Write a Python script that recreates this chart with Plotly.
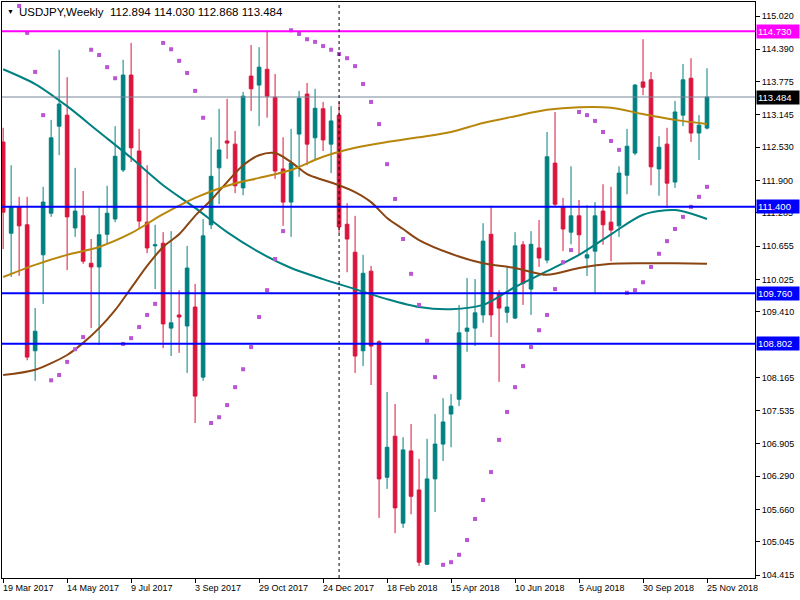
import pandas as pd
import plotly.graph_objects as go

# ---------------- data ----------------
dates = pd.date_range("2017-03-19", periods=89, freq="7D")

open_ = [112.63, 110.90, 111.40, 111.06, 108.67, 110.49, 111.28, 112.93, 113.14, 111.00,
         111.23, 110.33, 110.26, 110.88, 111.17, 112.10, 113.90, 112.46, 111.11, 110.66,
         110.71, 109.10, 109.35, 109.14, 109.50, 108.17, 111.06, 112.14, 112.65, 112.59,
         111.76, 113.88, 113.71, 114.01, 113.48, 112.12, 111.49, 112.78, 113.54, 112.71,
         113.26, 112.59, 113.14, 111.07, 110.54, 108.67, 110.18, 108.84, 106.27, 107.05,
         105.40, 106.77, 106.03, 104.62, 106.24, 106.90, 107.47, 107.75, 109.04, 109.10,
         109.35, 110.88, 109.75, 109.40, 109.29, 110.68, 109.84, 110.62, 110.39, 112.23,
         111.40, 110.92, 111.23, 110.43, 110.56, 111.32, 111.11, 111.04, 112.00, 112.42,
         113.77, 113.81, 112.12, 112.59, 111.87, 113.14, 113.84, 112.80, 112.894]
high = [112.90, 112.19, 111.59, 111.59, 109.48, 111.78, 113.05, 114.38, 113.86, 112.14,
        111.70, 110.79, 111.42, 111.80, 112.93, 114.19, 114.51, 112.88, 112.19, 111.06,
        110.92, 110.94, 109.82, 110.66, 109.94, 111.17, 112.72, 113.26, 113.45, 112.84,
        113.58, 114.47, 114.43, 114.75, 113.92, 112.72, 112.88, 113.60, 113.75, 113.64,
        113.39, 113.31, 113.39, 111.47, 111.23, 110.49, 110.28, 108.87, 107.89, 107.66,
        107.03, 107.28, 106.62, 107.00, 107.47, 107.77, 107.85, 109.54, 110.05, 110.03,
        111.09, 111.42, 109.82, 110.26, 110.92, 110.75, 110.94, 111.15, 112.82, 113.20,
        111.57, 112.17, 111.53, 111.43, 111.49, 111.83, 111.78, 112.17, 112.88, 113.73,
        114.58, 113.96, 112.74, 112.90, 113.41, 114.11, 114.22, 113.14, 114.030]
low = [110.60, 110.07, 110.09, 108.49, 108.10, 109.56, 111.21, 112.38, 110.20, 110.83,
       110.32, 109.10, 108.78, 110.71, 111.11, 112.06, 112.25, 111.00, 110.52, 109.84,
       108.72, 108.57, 108.63, 108.25, 107.30, 108.10, 110.98, 111.45, 112.31, 111.66,
       111.62, 113.22, 112.93, 113.09, 111.93, 111.04, 110.83, 111.97, 112.19, 112.29,
       112.46, 112.04, 110.90, 110.16, 108.25, 108.38, 108.02, 105.50, 106.05, 105.21,
       105.31, 105.57, 104.59, 104.61, 105.61, 106.58, 106.84, 107.62, 108.65, 108.76,
       109.20, 108.93, 108.08, 109.20, 109.27, 109.54, 109.35, 110.26, 110.33, 111.40,
       110.56, 110.69, 110.49, 110.09, 109.77, 110.68, 110.37, 110.83, 111.64, 112.38,
       113.52, 111.81, 111.61, 111.38, 111.76, 112.93, 112.63, 112.29, 112.868]
close = [111.30, 111.40, 111.04, 108.55, 109.04, 111.49, 112.71, 113.35, 111.21, 111.32,
         110.37, 110.26, 110.87, 111.28, 112.36, 113.90, 112.52, 111.13, 110.62, 110.68,
         109.18, 109.20, 109.31, 110.24, 107.81, 110.85, 111.98, 112.48, 112.61, 111.80,
         113.50, 113.64, 114.05, 113.50, 112.08, 111.49, 112.23, 113.46, 112.59, 113.27,
         112.67, 113.03, 111.02, 110.79, 108.57, 110.14, 108.76, 106.24, 106.84, 105.69,
         106.79, 105.91, 104.66, 106.24, 106.90, 107.32, 107.62, 109.01, 109.10, 109.39,
         110.75, 109.35, 109.48, 109.50, 110.66, 109.95, 110.69, 110.43, 112.35, 111.45,
         110.98, 111.23, 110.87, 110.49, 111.23, 111.06, 110.96, 112.04, 112.55, 113.71,
         113.67, 112.16, 112.53, 111.85, 113.20, 113.81, 112.80, 112.95, 113.484]

# moving averages (read at selected weeks)
teal_idx = [0, 4, 8, 12, 16, 20, 24, 28, 32, 36, 40, 44, 48, 52, 56, 60, 64, 68, 72, 76, 80, 84, 88]
teal_ma = [114.01, 113.73, 113.31, 112.82, 112.33, 111.81, 111.38, 110.92, 110.54, 110.24,
           110.03, 109.84, 109.65, 109.50, 109.46, 109.54, 109.88, 110.18, 110.49, 110.88,
           111.25, 111.34, 111.17]
brown_idx = [0, 4, 8, 10, 12, 14, 16, 18, 20, 22, 24, 26, 28, 30, 32, 34, 36, 38, 40, 42,
             44, 46, 48, 50, 52, 56, 60, 64, 68, 72, 76, 80, 84, 88]
brown_ma = [108.21, 108.31, 108.59, 108.82, 109.10, 109.44, 109.86, 110.28, 110.64, 110.88,
            111.23, 111.53, 111.87, 112.19, 112.38, 112.42, 112.25, 112.02, 111.91, 111.81,
            111.68, 111.49, 111.19, 110.98, 110.77, 110.51, 110.33, 110.24, 110.11, 110.24,
            110.32, 110.33, 110.33, 110.32]
gold_idx = [0, 4, 8, 12, 16, 20, 24, 28, 32, 36, 40, 44, 48, 52, 56, 60, 64, 68, 72, 76, 80, 84, 88]
gold_ma = [110.07, 110.30, 110.49, 110.64, 110.90, 111.26, 111.57, 111.80, 111.95, 112.10,
           112.35, 112.52, 112.63, 112.72, 112.82, 112.99, 113.12, 113.24, 113.29, 113.28,
           113.16, 113.05, 112.97]

# parabolic SAR
sar = [None, None, 115.21, 114.70, 113.96, 113.14, 108.11, 108.21, 108.46, 108.70,
       108.93, 114.38, 114.28, 114.05, 113.84, 108.80, 108.91, 109.12, 109.35, 109.56,
       114.51, 114.39, 114.17, 113.94, 113.60, 113.09, 107.30, 107.41, 107.64, 107.98,
       108.32, 108.74, 109.31, 109.82, 110.41, 110.94, 114.75, 114.68, 114.58, 114.53,
       114.45, 114.38, 114.30, 114.22, 114.07, 113.73, 113.39, 112.97, 112.21, 111.55,
       110.79, 110.13, 109.54, 108.86, 108.17, 104.61, 104.66, 104.80, 105.08, 105.48,
       105.84, 106.37, 106.98, 107.51, 107.98, 108.38, 108.74, 109.06, 109.35, 109.84,
       110.35, 110.58, 113.20, 113.14, 113.03, 112.82, 112.65, 112.48, 109.77, 109.82,
       109.97, 110.26, 110.51, 110.75, 110.98, 111.21, 111.40, 111.59, 111.78]

# price axis ticks (108.780 is hidden behind the 108.802 label in the reference)
y_ticks = [115.020, 114.390, 113.775, 113.145, 112.530, 111.900, 111.285, 110.655, 110.025,
           109.410, 108.165, 107.535, 106.905, 106.290, 105.660, 105.045, 104.415]
x_tick_labels = ["19 Mar 2017", "14 May 2017", "9 Jul 2017", "3 Sep 2017", "29 Oct 2017",
                 "24 Dec 2017", "18 Feb 2018", "15 Apr 2018", "10 Jun 2018", "5 Aug 2018",
                 "30 Sep 2018", "25 Nov 2018"]

# horizontal levels: (price, line colour, label background, line width)
levels = [(114.730, "#FF00FF", "#FF00FF", 2),
          (113.484, "#778899", "#000000", 1),
          (111.400, "#0000FF", "#0000FF", 2),
          (109.760, "#0000FF", "#0000FF", 2),
          (108.802, "#0000FF", "#0000FF", 2)]

header = "USDJPY,Weekly  112.894 114.030 112.868 113.484"
separator_date = dates[42]

FONT = "Liberation Sans, Arial, sans-serif"

# ---------------- figure ----------------
fig = go.Figure()

fig.add_trace(go.Candlestick(
    x=dates, open=open_, high=high, low=low, close=close,
    increasing=dict(line=dict(color="#008080", width=1), fillcolor="#008080"),
    decreasing=dict(line=dict(color="#DC143C", width=1), fillcolor="#DC143C"),
    whiskerwidth=0, showlegend=False, hoverinfo="skip"))

for idx, vals, col in [(teal_idx, teal_ma, "#008080"),
                       (brown_idx, brown_ma, "#8B4513"),
                       (gold_idx, gold_ma, "#B8860B")]:
    fig.add_trace(go.Scatter(x=[dates[i] for i in idx], y=vals, mode="lines",
                             line=dict(color=col, width=2, shape="spline", smoothing=0.8),
                             showlegend=False, hoverinfo="skip"))

fig.add_trace(go.Scatter(x=dates, y=sar, mode="markers",
                         marker=dict(symbol="square", size=4, color="#BA55D3"),
                         showlegend=False, hoverinfo="skip"))

shapes = []
annotations = []
for price, lc, bg, lw in levels:
    shapes.append(dict(type="line", xref="paper", x0=0, x1=1, yref="y", y0=price, y1=price,
                       line=dict(color=lc, width=lw)))
    annotations.append(dict(xref="paper", x=1, yref="y", y=price, xanchor="left",
                            yanchor="middle", text=f"{price:.3f}", showarrow=False,
                            bgcolor=bg, font=dict(color="white", size=9.5, family=FONT),
                            borderpad=1, xshift=1, width=40, height=11, align="left"))

shapes.append(dict(type="line", xref="x", x0=separator_date, x1=separator_date,
                   yref="paper", y0=0, y1=1, line=dict(color="black", width=1, dash="3px,3px")))

for i, lab in enumerate(x_tick_labels):
    annotations.append(dict(xref="x", x=dates[i * 8], yref="paper", y=0, xanchor="left",
                            yanchor="top", yshift=-3, xshift=-2, text=lab, showarrow=False,
                            font=dict(color="black", size=9, family=FONT)))

annotations.append(dict(xref="paper", x=0, yref="paper", y=1, xanchor="left", yanchor="top",
                        xshift=3, yshift=-4, text="▼", showarrow=False,
                        font=dict(color="black", size=7, family=FONT)))
annotations.append(dict(xref="paper", x=0, yref="paper", y=1, xanchor="left", yanchor="top",
                        xshift=15, yshift=-2, text=header, showarrow=False,
                        font=dict(color="black", size=11.5, family=FONT)))

fig.update_layout(
    width=800, height=600,
    margin=dict(l=2, r=45, t=2, b=22, autoexpand=False),
    paper_bgcolor="white", plot_bgcolor="white",
    shapes=shapes, annotations=annotations,
    boxgap=0.35,
    xaxis=dict(type="date", automargin=False,
               range=[dates[0] - pd.Timedelta(days=1), dates[0] + pd.Timedelta(weeks=94)],
               rangeslider=dict(visible=False),
               showgrid=False, zeroline=False, showline=True, mirror=True,
               linecolor="black", linewidth=1,
               tickvals=list(dates[::8]), showticklabels=False,
               ticks="outside", ticklen=4, tickcolor="black"),
    yaxis=dict(side="right", automargin=False, range=[104.36, 115.286],
               showgrid=False, zeroline=False, showline=True, mirror=True,
               linecolor="black", linewidth=1,
               tickvals=y_ticks, ticktext=[f"{v:.3f}" for v in y_ticks],
               ticks="outside", ticklen=4, tickcolor="black",
               tickfont=dict(color="black", size=9, family=FONT)),
    hovermode=False,
)

fig.write_html("out.html", config={"displayModeBar": False, "staticPlot": True},
               post_script="document.body.style.margin='0';")
